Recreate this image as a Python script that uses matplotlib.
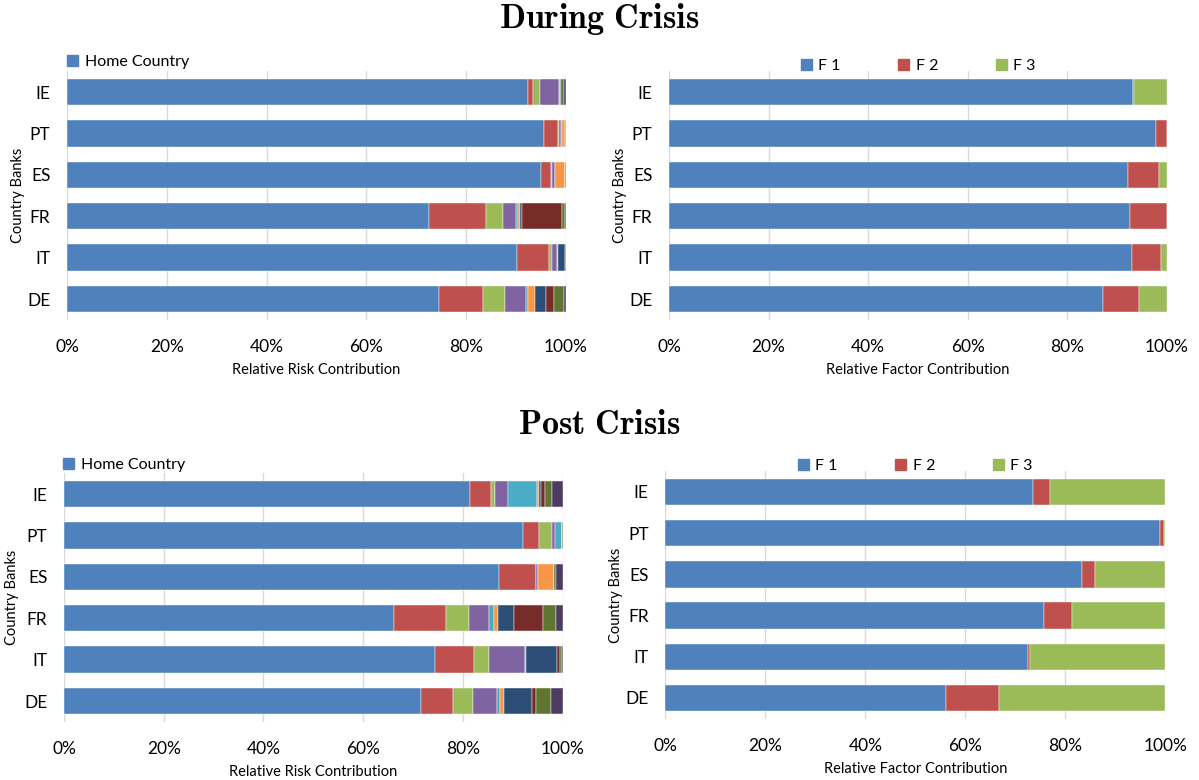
import matplotlib
matplotlib.use("Agg")
import matplotlib.pyplot as plt
import numpy as np
from matplotlib.ticker import FuncFormatter
from matplotlib.patches import Patch

plt.rcParams['font.family'] = ['Lato', 'DejaVu Sans']
plt.rcParams['mathtext.fontset'] = 'cm'

countries = ['IE', 'PT', 'ES', 'FR', 'IT', 'DE']

# ---- During crisis: relative risk contribution (%) ----
home_during = [92.4, 95.6, 94.9, 72.6, 90.2, 74.5]
c2_during = [1.0, 2.8, 2.0, 11.3, 6.4, 8.9]
c3_during = [1.3, 0.1, 0.3, 3.5, 0.5, 4.4]
c4_during = [3.9, 0.4, 0.5, 2.6, 1.1, 4.1]
c5_during = [0.2, 0.3, 0.1, 0.3, 0.1, 0.5]
c6_during = [0.0, 0.6, 2.0, 0.4, 0.0, 1.4]
c7_during = [0.1, 0.1, 0.0, 0.4, 1.5, 2.1]
c8_during = [0.1, 0.0, 0.0, 8.0, 0.2, 1.6]
c9_during = [0.6, 0.1, 0.1, 0.7, 0.0, 2.0]
c10_during = [0.4, 0.0, 0.1, 0.2, 0.0, 0.5]

# ---- Post crisis: relative risk contribution (%) ----
home_post = [81.4, 92.0, 87.3, 66.1, 74.4, 71.7]
c2_post = [4.3, 3.2, 7.3, 10.5, 7.8, 6.4]
c3_post = [0.7, 2.6, 0.0, 4.7, 3.0, 4.0]
c4_post = [2.6, 0.7, 0.4, 4.0, 7.3, 4.7]
c5_post = [5.8, 1.3, 0.0, 1.0, 0.1, 0.6]
c6_post = [0.4, 0.0, 3.2, 0.8, 0.0, 0.9]
c7_post = [0.5, 0.0, 0.0, 3.1, 6.3, 5.5]
c8_post = [0.8, 0.0, 0.0, 5.8, 0.5, 0.9]
c9_post = [1.4, 0.2, 0.4, 2.7, 0.4, 2.9]
c10_post = [2.1, 0.0, 1.4, 1.3, 0.2, 2.4]

# ---- Relative factor contribution (%) ----
f1_during = [93.1, 97.7, 92.2, 92.6, 92.9, 87.1]
f2_during = [0.3, 2.3, 6.2, 7.4, 5.8, 7.3]
f3_during = [6.6, 0.0, 1.6, 0.0, 1.3, 5.6]

f1_post = [73.5, 98.9, 83.3, 75.8, 72.5, 56.1]
f2_post = [3.5, 0.8, 2.6, 5.5, 0.4, 10.6]
f3_post = [23.0, 0.3, 14.1, 18.7, 27.1, 33.3]

factor_labels = ['F 1', 'F 2', 'F 3']
xticks = [0, 20, 40, 60, 80, 100]

palette = ['#4F81BD', '#C0504D', '#9BBB59', '#8064A2', '#4BACC6',
           '#F79646', '#2C4D75', '#772C2A', '#5F7530', '#4D3B62']

W, H = 1199, 780
fig = plt.figure(figsize=(W / 100, H / 100), dpi=100)


def add_ax(x0, x1, ytop, ybot):
    return fig.add_axes([x0 / W, 1 - ybot / H, (x1 - x0) / W, (ybot - ytop) / H])


def style(ax, xlabel, ylab_x):
    ax.set_xlim(0, 100)
    ax.set_ylim(len(countries) - 0.5, -0.5)
    ax.set_xticks(xticks)
    ax.xaxis.set_major_formatter(FuncFormatter(lambda v, p: f"{int(v)}%"))
    ax.grid(axis='x', color='#d9d9d9', linewidth=1.0)
    ax.set_axisbelow(True)
    for s in ax.spines.values():
        s.set_visible(False)
    ax.tick_params(axis='x', length=0, labelsize=12.5, pad=14)
    ax.tick_params(axis='y', length=0, labelsize=12.5, pad=12)
    ax.set_xlabel(xlabel, fontsize=10.5, labelpad=6)
    ax.set_ylabel('Country Banks', fontsize=10.5)
    ax.yaxis.set_label_coords(ylab_x, 0.5)


def stacked(ax, series, colors):
    y = np.arange(len(countries))
    left = np.zeros(len(countries))
    for vals, col in zip(series, colors):
        ax.barh(y, vals, left=left, height=0.64, color=col,
                edgecolor='white', linewidth=0.3)
        left += np.array(vals)
    ax.set_yticks(y)
    ax.set_yticklabels(countries)


during_risk = [home_during, c2_during, c3_during, c4_during, c5_during,
               c6_during, c7_during, c8_during, c9_during, c10_during]
post_risk = [home_post, c2_post, c3_post, c4_post, c5_post,
             c6_post, c7_post, c8_post, c9_post, c10_post]

# Top-left
ax1 = add_ax(67, 566, 71.3, 319.7)
stacked(ax1, during_risk, palette)
style(ax1, 'Relative Risk Contribution', -0.085)

# Top-right
ax2 = add_ax(669, 1167, 71.3, 319.7)
stacked(ax2, [f1_during, f2_during, f3_during], palette[:3])
style(ax2, 'Relative Factor Contribution', -0.085)

# Bottom-left
ax3 = add_ax(64, 562.5, 473.3, 721.7)
stacked(ax3, post_risk, palette)
style(ax3, 'Relative Risk Contribution', -0.09)

# Bottom-right
ax4 = add_ax(665.3, 1165.3, 471.4, 718.6)
stacked(ax4, [f1_post, f2_post, f3_post], palette[:3])
style(ax4, 'Relative Factor Contribution', -0.085)

# Legends
for ypix, xl in [(62, 64), (465, 60)]:
    fig.legend(handles=[Patch(color=palette[0], label='Home Country')],
               loc='center left', bbox_to_anchor=(xl / W, 1 - ypix / H),
               frameon=False, fontsize=11.5, handlelength=0.7, handleheight=0.7,
               handletextpad=0.4, borderaxespad=0, borderpad=0.2)

for ypix, xc in [(66, 918), (466, 915)]:
    fig.legend(handles=[Patch(color=c, label=l) for c, l in zip(palette[:3], factor_labels)],
               loc='center', bbox_to_anchor=(xc / W, 1 - ypix / H), ncol=3,
               frameon=False, fontsize=11.5, handlelength=0.7, handleheight=0.7,
               handletextpad=0.4, columnspacing=3.6, borderaxespad=0, borderpad=0.2)

fig.text(0.5, 1 - 19 / H, r'$\mathbf{During\ Crisis}$', ha='center', va='center', fontsize=24.5)
fig.text(0.5, 1 - 424 / H, r'$\mathbf{Post\ Crisis}$', ha='center', va='center', fontsize=24.5)

fig.savefig('out.png', dpi=100)
